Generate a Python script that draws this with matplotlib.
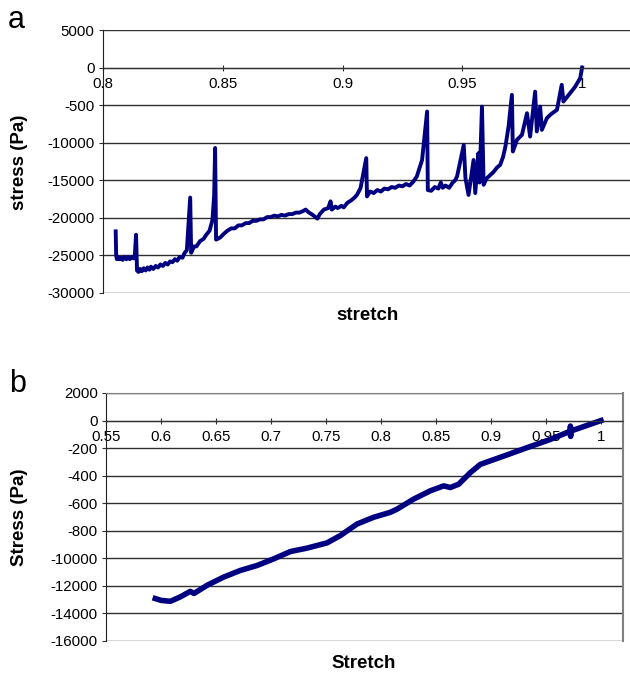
import numpy as np
import matplotlib
matplotlib.use("Agg")
import matplotlib.pyplot as plt

plt.rcParams['font.family'] = ['Liberation Sans', 'DejaVu Sans']

# panel a: stretch vs stress
stretch_a = [0.8053, 0.8055, 0.8058, 0.8062, 0.8068, 0.8075, 0.8082, 0.8090,
             0.8098, 0.8105, 0.8112, 0.8120, 0.8128, 0.8133, 0.8138, 0.8142,
             0.8148, 0.8155, 0.8162, 0.8170, 0.8178, 0.8186, 0.8194, 0.8200,
             0.8210, 0.8220, 0.8230, 0.8240, 0.8250, 0.8260, 0.8270, 0.8280,
             0.8290, 0.8300, 0.8310, 0.8320, 0.8332, 0.8340, 0.8350, 0.8364,
             0.8368, 0.8380, 0.8390, 0.8405, 0.8420, 0.8430, 0.8445, 0.8457,
             0.8464, 0.8468, 0.8472, 0.8490, 0.8505, 0.8520, 0.8535, 0.8550,
             0.8565, 0.8580, 0.8595, 0.8610, 0.8625, 0.8640, 0.8655, 0.8670,
             0.8685, 0.8700, 0.8715, 0.8730, 0.8745, 0.8760, 0.8775, 0.8790,
             0.8805, 0.8820, 0.8835, 0.8846, 0.8860, 0.8875, 0.8895, 0.8905,
             0.8922, 0.8940, 0.8950, 0.8955, 0.8970, 0.8980, 0.8995, 0.9005,
             0.9020, 0.9035, 0.9050, 0.9060, 0.9075, 0.9099, 0.9102, 0.9115,
             0.9130, 0.9145, 0.9160, 0.9175, 0.9190, 0.9205, 0.9220, 0.9235,
             0.9250, 0.9265, 0.9280, 0.9295, 0.9310, 0.9332, 0.9353, 0.9356,
             0.9370, 0.9385, 0.9400, 0.9410, 0.9418, 0.9430, 0.9445, 0.9460,
             0.9470, 0.9478, 0.9506, 0.9513, 0.9526, 0.9547, 0.9554, 0.9567,
             0.9572, 0.9582, 0.9589, 0.9600, 0.9617, 0.9630, 0.9645, 0.9658,
             0.9670, 0.9680, 0.9693, 0.9707, 0.9711, 0.9728, 0.9749, 0.9770,
             0.9783, 0.9804, 0.9811, 0.9825, 0.9832, 0.9853, 0.9870, 0.9895,
             0.9915, 0.9922, 0.9950, 0.9970, 0.9992, 1.0000]
stress_a = [-21800, -25000, -25500, -25200, -25500, -25300, -25600, -25200,
            -25500, -25200, -25500, -25200, -25400, -24900, -22250, -27000,
            -27200, -26800, -27100, -26700, -27000, -26600, -26900, -26500,
            -26800, -26400, -26600, -26200, -26400, -26000, -26200, -25800,
            -25900, -25500, -25700, -25200, -25300, -24700, -24300, -17300,
            -24650, -23800, -23800, -23100, -22800, -22300, -21700, -20250,
            -17000, -10700, -22900, -22600, -22100, -21700, -21400, -21400,
            -21000, -21000, -20700, -20700, -20400, -20400, -20200, -20200,
            -19900, -19900, -19700, -19800, -19600, -19700, -19500, -19500,
            -19300, -19300, -19100, -18900, -19300, -19600, -20100, -19500,
            -18900, -18700, -17800, -18900, -18500, -18700, -18400, -18600,
            -18000, -17700, -17300, -16950, -16050, -12050, -17150, -16500,
            -16700, -16300, -16500, -16100, -16200, -15900, -16000, -15700,
            -15800, -15500, -15700, -15200, -14500, -12300, -5850, -16300,
            -16400, -15900, -16100, -15300, -16000, -15700, -16000, -15300,
            -15000, -14500, -10300, -14700, -16950, -12300, -16700, -11400,
            -15300, -5200, -15600, -14800, -14300, -13900, -13300, -12950,
            -11900, -10500, -7850, -3630, -11170, -9620, -8950, -6070,
            -9180, -3200, -8500, -5200, -8290, -6730, -6200, -5630,
            -2300, -4520, -3410, -2600, -1410, 0]

# panel b
stretch_b = [0.5948, 0.6000, 0.6085, 0.6175, 0.6266, 0.6300, 0.6418, 0.6570,
             0.6721, 0.6873, 0.7024, 0.7175, 0.7327, 0.7509, 0.7630, 0.7782,
             0.7933, 0.8085, 0.8146, 0.8297, 0.8448, 0.8570, 0.8630, 0.8706,
             0.8812, 0.8903, 0.9115, 0.9327, 0.9539, 0.9721, 0.9722, 0.9724,
             0.9726, 1.0000]
stress_b = [-12920, -13050, -13120, -12800, -12400, -12550, -11960, -11360,
            -10880, -10520, -10040, -9510, -9260, -8880, -8350, -7510,
            -7020, -6660, -6430, -5700, -5100, -4740, -4860, -4620,
            -3780, -3180, -2580, -1970, -1370, -770, -400, -1150,
            -760, 0]

xticks_a = [0.8, 0.85, 0.9, 0.95, 1.0]
yticks_a = [5000, 0, -5000, -10000, -15000, -20000, -25000, -30000]
ylabels_a = ['5000', '0', '-500', '-10000', '-15000', '-20000', '-25000', '-30000']

xticks_b = [0.55, 0.6, 0.65, 0.7, 0.75, 0.8, 0.85, 0.9, 0.95, 1.0]
yticks_b = [2000, 0, -2000, -4000, -6000, -8000, -10000, -12000, -14000, -16000]
ylabels_b = ['2000', '0', '-200', '-400', '-600', '-800', '-10000', '-12000',
             '-14000', '-16000']

LINE = '#000080'

fig = plt.figure(figsize=(6.3, 6.75), dpi=100)
ax1 = fig.add_axes([103/630, 1-293/675, 527/630, 263/675])
ax2 = fig.add_axes([106/630, 1-641/675, 517/630, 248/675])


def style(ax, xt, yt, yl, xlim, ylim, frame):
    ax.set_xlim(*xlim)
    ax.set_ylim(*ylim)
    ax.set_yticks(yt)
    ax.set_yticklabels(yl)
    ax.set_xticks(xt)
    ax.set_xticklabels([f"{v:g}" for v in xt])
    for y in yt:
        ax.axhline(y, color='#303030', lw=1.0, zorder=0)
    ax.spines['bottom'].set_position(('data', 0))
    ax.spines['bottom'].set_color('#303030')
    ax.spines['left'].set_color('#202020')
    if frame:
        ax.spines['top'].set_color('#808080')
        ax.spines['right'].set_color('#808080')
        ax.spines['right'].set_linewidth(1.5)
    else:
        ax.spines['top'].set_visible(False)
        ax.spines['right'].set_visible(False)
    ax.tick_params(axis='x', direction='inout', length=5, pad=4, labelsize=10.8,
                   color='#303030')
    ax.tick_params(axis='y', direction='out', length=3, pad=3, labelsize=10.8,
                   color='#303030')


style(ax1, xticks_a, yticks_a, ylabels_a, (0.8, 1.02), (-30000, 5000), False)
style(ax2, xticks_b, yticks_b, ylabels_b, (0.55, 1.02), (-16000, 2000), True)

ax1.plot(stretch_a, stress_a, color=LINE, lw=2.8)
ax2.plot(stretch_b, stress_b, color=LINE, lw=4.0)

fig.text(20/630, 1-162/675, 'stress (Pa)', rotation=90, ha='center', va='center',
         fontsize=13.5, fontweight='bold')
fig.text(368/630, 1-315/675, 'stretch', ha='center', va='center',
         fontsize=13.5, fontweight='bold')
fig.text(20/630, 1-517/675, 'Stress (Pa)', rotation=90, ha='center', va='center',
         fontsize=13.5, fontweight='bold')
fig.text(364/630, 1-664/675, 'Stretch', ha='center', va='center',
         fontsize=13.5, fontweight='bold')

fig.text(8/630, 1-28/675, 'a', ha='left', va='baseline', fontsize=22)
fig.text(9/630, 1-392/675, 'b', ha='left', va='baseline', fontsize=22)

fig.savefig('out.png', dpi=100)
